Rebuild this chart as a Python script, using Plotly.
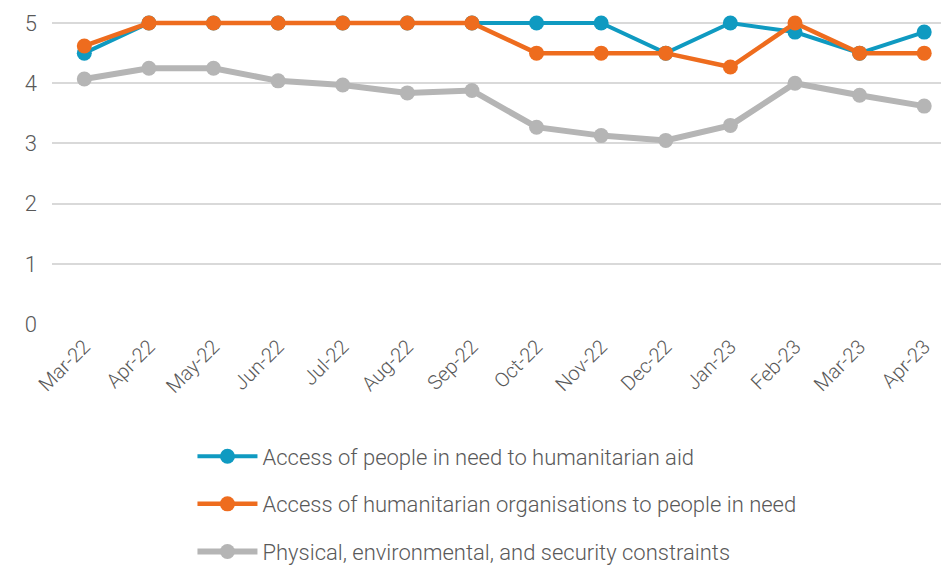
import plotly.graph_objects as go

months = ["Mar-22", "Apr-22", "May-22", "Jun-22", "Jul-22", "Aug-22", "Sep-22",
          "Oct-22", "Nov-22", "Dec-22", "Jan-23", "Feb-23", "Mar-23", "Apr-23"]
people_in_need = [4.5, 5, 5, 5, 5, 5, 5, 5, 5, 4.5, 5, 4.85, 4.5, 4.85]
organisations = [4.62, 5, 5, 5, 5, 5, 5, 4.5, 4.5, 4.5, 4.27, 5, 4.5, 4.5]
constraints = [4.07, 4.25, 4.25, 4.04, 3.97, 3.84, 3.88, 3.27, 3.13, 3.05, 3.30, 4.0, 3.8, 3.62]

names = ["Access of people in need to humanitarian aid",
         "Access of humanitarian organisations to people in need",
         "Physical, environmental, and security constraints"]
colors = ["#0F9AC1", "#EE6C1E", "#B5B5B5"]
widths = [4, 4.5, 6]
ranks = [1, 2, 3]
order = [2, 0, 1]  # draw gray first, orange on top

series = [people_in_need, organisations, constraints]
fig = go.Figure()
for i in order:
    fig.add_trace(go.Scatter(
        x=months, y=series[i], name=names[i], mode="lines+markers",
        line=dict(color=colors[i], width=widths[i]),
        marker=dict(color=colors[i], size=15),
        legendgroup=str(i), legendrank=ranks[i],
    ))

fig.update_layout(
    width=941, height=567,
    margin=dict(l=52, r=0, t=5, b=243),
    paper_bgcolor="white", plot_bgcolor="white",
    font=dict(family="Roboto", color="#595959", weight=300),
    showlegend=True,
    legend=dict(
        orientation="v", x=0.158, xanchor="left",
        yref="container", y=0.232, yanchor="top",
        font=dict(size=22, color="#595959", family="Roboto", weight=300),
        tracegroupgap=16, itemwidth=60,
    ),
    xaxis=dict(
        type="category", range=[-0.5, 13.26],
        tickangle=-45, tickfont=dict(size=20, color="#595959"),
        showgrid=False, showline=False, ticks="", ticklabelstandoff=6,
    ),
    yaxis=dict(
        range=[0, 5.3], tickvals=[0, 1, 2, 3, 4, 5],
        tickfont=dict(size=22, color="#595959"),
        gridcolor="#D9D9D9", gridwidth=1.5, zeroline=False,
        ticks="", ticklabelstandoff=14,
    ),
)

fig.write_html("out.html")
